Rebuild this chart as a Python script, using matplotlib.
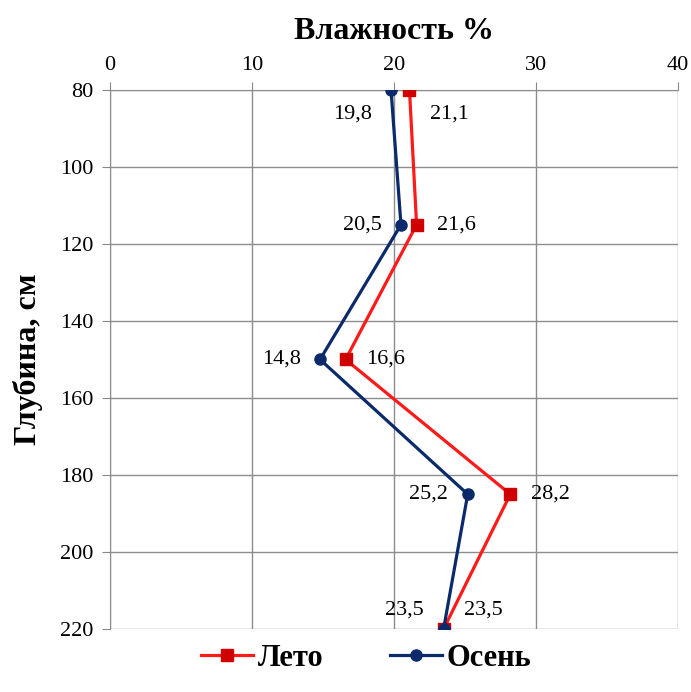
#!/usr/bin/env python3
"""Профиль влажности почвы по глубине: лето и осень."""

import matplotlib

matplotlib.use("Agg")
import matplotlib.pyplot as plt

depth = [80, 115, 150, 185, 220]
summer = [21.1, 21.6, 16.6, 28.2, 23.5]
autumn = [19.8, 20.5, 14.8, 25.2, 23.5]
x_ticks = [0, 10, 20, 30, 40]
y_ticks = [80, 100, 120, 140, 160, 180, 200, 220]

plt.rcParams["font.family"] = ["Liberation Serif", "DejaVu Serif"]

fig = plt.figure(figsize=(6.91, 6.92), dpi=100)
ax = fig.add_axes([0.159, 0.091, 0.822, 0.779])

ax.plot(summer, depth, color="#ff1a1a", lw=2.3, marker="s", ms=9,
        mfc="#d00000", mec="#d00000", label="Лето", zorder=3)
ax.plot(autumn, depth, color="#0a2a6b", lw=2.3, marker="o", ms=8,
        mfc="#0a2a6b", mec="#0a2a6b", label="Осень", zorder=4)

ax.set_xlim(0, 40)
ax.set_ylim(220, 80)
ax.set_xticks(x_ticks)
ax.set_yticks(y_ticks)
ax.xaxis.tick_top()
ax.xaxis.set_label_position("top")
ax.tick_params(axis="both", labelsize=16, length=6, color="#888888", direction="out")
ax.tick_params(axis="x", pad=5)
ax.tick_params(axis="y", pad=6)
ax.grid(True, color="#8c8c8c", lw=1.0)
for side in ["bottom", "right"]:
    ax.spines[side].set_visible(False)
for side in ["top", "left"]:
    ax.spines[side].set_color("#8c8c8c")

ax.set_xlabel("Влажность %", fontsize=23, fontweight="bold", labelpad=12)
ax.set_ylabel("Глубина, см", fontsize=23, fontweight="bold", labelpad=12)

# подписи: осень слева, лето справа
for i, (d, s, a) in enumerate(zip(depth, summer, autumn)):
    dy = 17 if i == 0 else (-14 if i == len(depth) - 1 else 0)
    ax.annotate(f"{a:.1f}".replace(".", ","), (a, d), xytext=(-14, -dy),
                textcoords="offset points", ha="right", va="center", fontsize=16)
    ax.annotate(f"{s:.1f}".replace(".", ","), (s, d), xytext=(15, -dy),
                textcoords="offset points", ha="left", va="center", fontsize=16)

fig.legend(loc="lower center", bbox_to_anchor=(0.53, -0.012), ncol=2, frameon=False,
           prop={"size": 22, "weight": "bold"}, handlelength=1.7,
           handletextpad=0.15, columnspacing=2.2)

fig.savefig("out.png", dpi=100)
